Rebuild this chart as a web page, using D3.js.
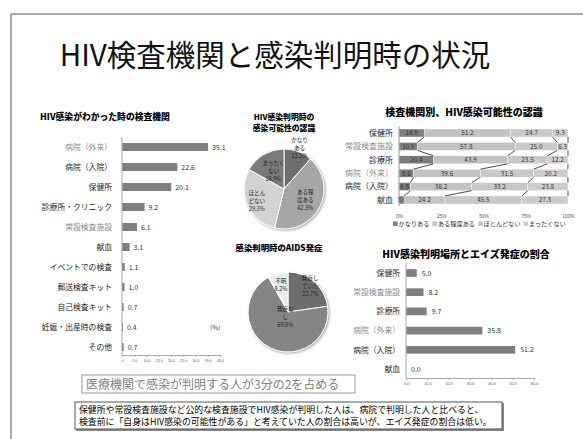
<!DOCTYPE html>
<html><head><meta charset="utf-8">
<script src="https://cdn.jsdelivr.net/npm/d3@7"></script>
<style>
html,body{margin:0;padding:0;background:#fff;}
svg{display:block;font-family:"Noto Sans CJK JP","Noto Sans",sans-serif;}
</style></head><body>
<svg id="c" width="583" height="439"></svg>
<script>
// ---------- data ----------
const slideTitle = "HIV検査機関と感染判明時の状況";

const labTitle = "HIV感染がわかった時の検査機関";
const labCats = ["病院（外来）","病院（入院）","保健所","診療所・クリニック","常設検査施設","献血","イベントでの検査","郵送検査キット","自己検査キット","妊娠・出産時の検査","その他"];
const labVals = [35.1,22.6,20.1,9.2,6.1,3.1,1.1,1.0,0.7,0.4,0.7];
const labTicks = [0,5,10,15,20,25,30,35,40];
const labUnit = "(%)";

const awareTitle = ["HIV感染判明時の","感染可能性の認識"];
const awareCats = ["かなりある","ある程度ある","ほとんどない","まったくない"];
const awareVals = [11.5,42.3,29.3,16.9];
const awareLabelLines = [["かなり","ある"],["ある程","度ある"],["ほとん","どない"],["まったく","ない"]];

const aidsTitle = "感染判明時のAIDS発症";
const aidsCats = ["発症していた","発症なし","不明"];
const aidsVals = [22.7,69.0,8.2];
const aidsLabelLines = [["発症し","ていた"],["発症な","し"],["不明"]];

const stTitle = "検査機関別、HIV感染可能性の認識";
const stCats = ["保健所","常設検査施設","診療所","病院（外来）","病院（入院）","献血"];
const stKanari   = [14.9,10.9,20.4,8.6,6.8,3.0];
const stAruteido = [51.2,57.8,43.9,39.6,36.2,24.2];
const stHotondo  = [24.7,25.0,23.5,31.5,33.2,45.5];
const stMattaku  = [9.3,6.3,12.2,20.2,23.8,27.3];
const stSeriesNames = ["かなりある","ある程度ある","ほとんどない","まったくない"];
const stTicks = [0,25,50,75,100];

const apTitle = "HIV感染判明場所とエイズ発症の割合";
const apCats = ["保健所","常設検査施設","診療所","病院（外来）","病院（入院）","献血"];
const apVals = [5.0,8.2,9.7,35.8,51.2,0.0];
const apTicks = [0,10,20,30,40,50,60];

const note1 = "医療機関で感染が判明する人が3分の2を占める";
const note2 = ["保健所や常設検査施設など公的な検査施設でHIV感染が判明した人は、病院で判明した人と比べると、",
               "検査前に「自身はHIV感染の可能性がある」と考えていた人の割合は高いが、エイズ発症の割合は低い。"];

// ---------- styling ----------
const grayCats = new Set(["病院（外来）","常設検査施設"]);
const catColor = c => grayCats.has(c) ? "#8a8a8a" : "#222";
const barGray = "#7f7f7f";
const f1 = d3.format(".1f");

const svg = d3.select("#c");
svg.append("rect").attr("width",583).attr("height",439).attr("fill","#fff");
const defs = svg.append("defs");
const sh = defs.append("filter").attr("id","sh").attr("x","-20%").attr("y","-20%").attr("width","150%").attr("height","150%");
sh.append("feDropShadow").attr("dx",1.2).attr("dy",1.2).attr("stdDeviation",1).attr("flood-color","#888").attr("flood-opacity",0.7);

// slide frame
svg.append("line").attr("x1",11).attr("x2",583).attr("y1",14).attr("y2",14).attr("stroke","#8c8c8c").attr("stroke-width",1.5);
svg.append("line").attr("x1",11).attr("x2",11).attr("y1",14).attr("y2",439).attr("stroke","#8c8c8c").attr("stroke-width",1.5);

svg.append("text").attr("x",275).attr("y",66).attr("text-anchor","middle")
  .attr("font-size",29.5).attr("fill","#111").text(slideTitle);

// ---------- left bar chart ----------
{
  const g = svg.append("g");
  const x = d3.scaleLinear().domain([0,40]).range([122,220]);
  const y = d3.scaleBand().domain(labCats).range([137,357]).paddingInner(0.6).paddingOuter(0.3);
  g.append("text").attr("x",40).attr("y",120).attr("font-size",8.8).attr("font-weight",900).attr("fill","#000").text(labTitle);
  g.selectAll("rect.b").data(labVals).join("rect")
    .attr("x",x(0)).attr("y",(d,i)=>y(labCats[i])).attr("width",d=>x(d)-x(0)).attr("height",y.bandwidth())
    .attr("fill",barGray);
  g.selectAll("text.v").data(labVals).join("text")
    .attr("x",d=>x(d)+4).attr("y",(d,i)=>y(labCats[i])+y.bandwidth()/2+2.5)
    .attr("font-size",7).attr("fill","#333").text(d=>f1(d));
  g.selectAll("text.c").data(labCats).join("text")
    .attr("x",112).attr("y",d=>y(d)+y.bandwidth()/2+2.6).attr("text-anchor","end")
    .attr("font-size",7.8).attr("fill",d=>catColor(d)).text(d=>d);
  const ax = g.append("g").attr("transform","translate(0,355)")
    .call(d3.axisBottom(x).tickValues(labTicks).tickSize(2).tickFormat(d=>d===0?"0":f1(d)));
  ax.select(".domain").attr("stroke","#aaa");
  ax.selectAll(".tick line").attr("stroke","#aaa");
  ax.selectAll("text").attr("font-size",3.6).attr("fill","#555").attr("dy","0.5em");
  g.append("line").attr("x1",x(0)).attr("x2",x(0)).attr("y1",137).attr("y2",355).attr("stroke","#aaa");
  g.append("text").attr("x",210).attr("y",330).attr("font-size",6.5).attr("fill","#333").text(labUnit);
}

// ---------- pie helpers ----------
function drawPie(cx, cy, r, vals, colors, lines, radFactors, strokeCol){
  const g = svg.append("g").attr("transform",`translate(${cx},${cy})`);
  const arcs = d3.pie().sort(null).value(d=>d)(vals);
  const arc = d3.arc().innerRadius(0).outerRadius(r);
  g.append("g").attr("filter","url(#sh)").selectAll("path").data(arcs).join("path")
    .attr("d",arc).attr("fill",(d,i)=>colors[i]).attr("stroke",strokeCol).attr("stroke-width",1);
  arcs.forEach((a,i)=>{
    const la = d3.arc().innerRadius(r*radFactors[i]).outerRadius(r*radFactors[i]);
    const [lx,ly] = la.centroid(a);
    const ls = lines[i].concat([f1(vals[i])+"%"]);
    const t = g.append("text").attr("text-anchor","middle").attr("font-size",5.6).attr("fill","#222");
    ls.forEach((s,k)=>t.append("tspan").attr("x",lx).attr("y",ly+(k-(ls.length-1)/2)*8+2).text(s));
  });
}

// pie 1
svg.append("text").attr("text-anchor","middle").attr("font-size",7.8).attr("font-weight",900).attr("fill","#000")
  .selectAll("tspan").data(awareTitle).join("tspan").attr("x",284).attr("y",(d,i)=>120+i*11).text(d=>d);
drawPie(284,189,40,awareVals,["#6e6e6e","#a6a6a6","#d2d2d2","#7a7a7a"],awareLabelLines,[1.1,0.6,0.74,0.52],"#fff");

// pie 2
svg.append("text").attr("x",279).attr("y",251).attr("text-anchor","middle").attr("font-size",8.4).attr("font-weight",900).attr("fill","#000").text(aidsTitle);
drawPie(288,312,40,aidsVals,["#6d6d6d","#858585","#ececec"],aidsLabelLines,[0.85,0.15,0.7],"#fff");

// ---------- stacked chart ----------
{
  const g = svg.append("g");
  const x = d3.scaleLinear().domain([0,100]).range([399,568]);
  const y = d3.scaleBand().domain(stCats).range([126.3,206.7]).paddingInner(0.4).paddingOuter(0.2);
  const series = [stKanari, stAruteido, stHotondo, stMattaku];
  const colors = ["#7f7f7f","#c3c3c3","#c9c9c9","#cdcdcd"];
  const rows = stCats.map((c,i)=>{const o={cat:c}; stSeriesNames.forEach((n,k)=>o[n]=series[k][i]); return o;});
  const stack = d3.stack().keys(stSeriesNames)(rows);
  g.append("text").attr("x",464).attr("y",116).attr("text-anchor","middle").attr("font-size",10).attr("font-weight",900).attr("fill","#000").text(stTitle);
  stack.forEach((s,k)=>{
    g.selectAll(null).data(s).join("rect")
      .attr("x",d=>x(d[0])).attr("y",d=>y(d.data.cat)).attr("width",d=>Math.min(x(d[1]),x(100))-x(d[0])).attr("height",y.bandwidth())
      .attr("fill",colors[k]).attr("stroke","#fff").attr("stroke-width",0.4);
    g.selectAll(null).data(s).join("text")
      .attr("x",d=>(x(d[0])+x(d[1]))/2).attr("y",d=>y(d.data.cat)+y.bandwidth()/2+2.3)
      .attr("text-anchor","middle").attr("font-size",6.4).attr("fill","#333").text(d=>f1(d[1]-d[0]));
  });
  // series lines
  stack.forEach(s=>{
    for(let i=0;i<s.length-1;i++){
      g.append("line").attr("x1",x(Math.min(s[i][1],100))).attr("y1",y(stCats[i])+y.bandwidth())
        .attr("x2",x(Math.min(s[i+1][1],100))).attr("y2",y(stCats[i+1])).attr("stroke","#000").attr("stroke-width",0.7);
    }
  });
  g.selectAll("text.c").data(stCats).join("text")
    .attr("x",393).attr("y",d=>y(d)+y.bandwidth()/2+2.8).attr("text-anchor","end")
    .attr("font-size",8).attr("fill",d=>catColor(d)).text(d=>d);
  g.append("line").attr("x1",x(0)).attr("x2",x(0)).attr("y1",126).attr("y2",206).attr("stroke","#999");
  const ax = g.append("g").attr("transform","translate(0,207)")
    .call(d3.axisBottom(x).tickValues(stTicks).tickSize(0).tickPadding(8).tickFormat(d=>d+"%"));
  ax.select(".domain").remove();
  ax.selectAll("text").attr("font-size",4.8).attr("fill","#555");
  // legend
  const lg = g.append("g").attr("transform","translate(393,226)");
  let lx = 0;
  stSeriesNames.forEach((n,k)=>{
    lg.append("rect").attr("x",lx).attr("y",-4.6).attr("width",4.6).attr("height",4.6).attr("fill",colors[k]);
    const t = lg.append("text").attr("x",lx+5.5).attr("y",0).attr("font-size",6.2).attr("fill","#333").text(n);
    lx += 5.5 + t.node().getComputedTextLength() + 3;
  });
}

// ---------- bottom-right bar chart ----------
{
  const g = svg.append("g");
  const x = d3.scaleLinear().domain([0,60]).range([406,534]);
  const y = d3.scaleBand().domain(apCats).range([263.4,378.6]).paddingInner(0.6).paddingOuter(0.3);
  g.append("text").attr("x",466).attr("y",258).attr("text-anchor","middle").attr("font-size",10).attr("font-weight",900).attr("fill","#000").text(apTitle);
  g.selectAll("rect.b").data(apVals).join("rect")
    .attr("x",x(0)).attr("y",(d,i)=>y(apCats[i])).attr("width",d=>x(d)-x(0)).attr("height",y.bandwidth())
    .attr("fill",barGray);
  g.selectAll("text.v").data(apVals).join("text")
    .attr("x",d=>x(d)+5).attr("y",(d,i)=>y(apCats[i])+y.bandwidth()/2+2.5)
    .attr("font-size",7).attr("fill","#333").text(d=>f1(d));
  g.selectAll("text.c").data(apCats).join("text")
    .attr("x",400).attr("y",d=>y(d)+y.bandwidth()/2+2.8).attr("text-anchor","end")
    .attr("font-size",7.8).attr("fill",d=>catColor(d)).text(d=>d);
  const ax = g.append("g").attr("transform","translate(0,378)")
    .call(d3.axisBottom(x).tickValues(apTicks).tickSize(2).tickFormat(f1));
  ax.select(".domain").attr("stroke","#aaa");
  ax.selectAll(".tick line").attr("stroke","#aaa");
  ax.selectAll("text").attr("font-size",3.8).attr("fill","#555").attr("dy","0.6em");
  g.append("line").attr("x1",x(0)).attr("x2",x(0)).attr("y1",263).attr("y2",378).attr("stroke","#aaa");
}

// ---------- notes ----------
svg.append("rect").attr("x",82).attr("y",375).attr("width",273).attr("height",18).attr("fill","#fff").attr("stroke","#999").attr("stroke-width",1);
svg.append("text").attr("x",86).attr("y",389).attr("font-size",12).attr("fill","#808080").text(note1);

svg.append("rect").attr("x",76).attr("y",403).attr("width",428).attr("height",28).attr("fill","#888");
svg.append("rect").attr("x",75).attr("y",402).attr("width",427).attr("height",27).attr("fill","#fff").attr("stroke","#555").attr("stroke-width",1);
svg.append("text").attr("font-size",8.9).attr("fill","#000")
  .selectAll("tspan").data(note2).join("tspan").attr("x",79).attr("y",(d,i)=>413+i*12).text(d=>d);
</script>
</body></html>
